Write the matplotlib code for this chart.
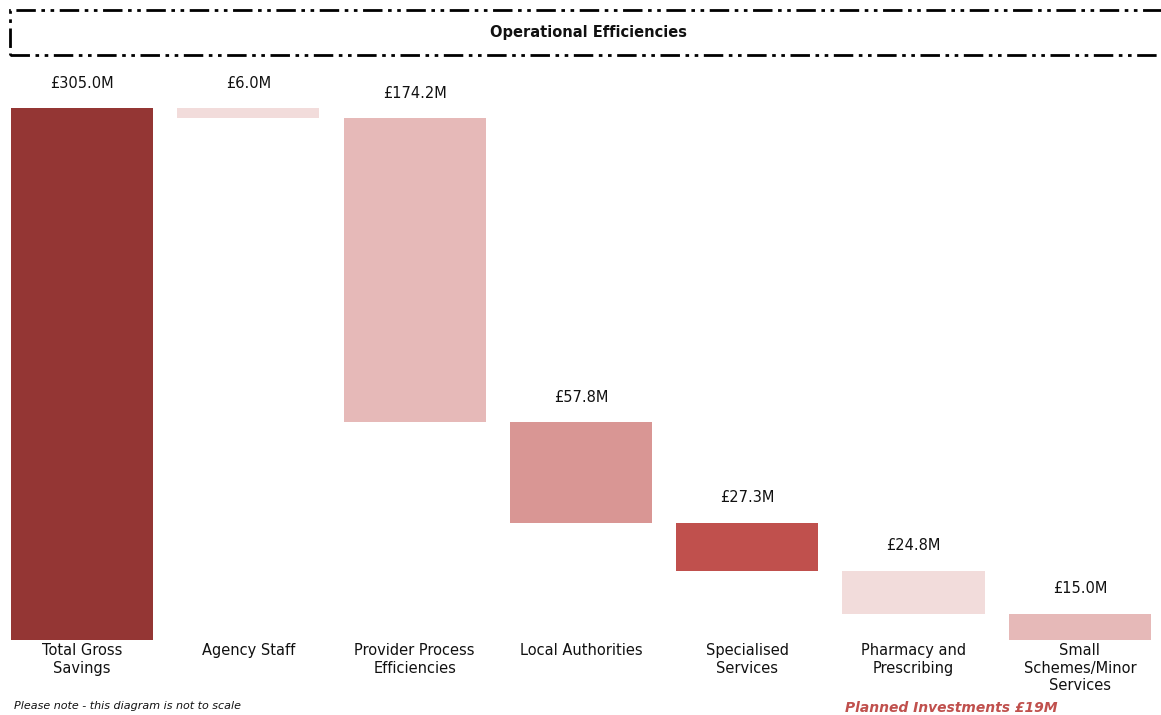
import numpy as np
import matplotlib.pyplot as plt
from matplotlib.patches import Rectangle

plt.rcParams["font.family"] = ["DejaVu Sans"]

# waterfall data (GBP millions)
categories = [
    "Total Gross\nSavings",
    "Agency Staff",
    "Provider Process\nEfficiencies",
    "Local Authorities",
    "Specialised\nServices",
    "Pharmacy and\nPrescribing",
    "Small\nSchemes/Minor\nServices",
]
total = 305.0
steps = [6.0, 174.2, 57.8, 27.3, 24.8, 15.0]
labels = ["£305.0M", "£6.0M", "£174.2M", "£57.8M", "£27.3M", "£24.8M", "£15.0M"]
colors = ["#943634", "#F2DCDB", "#E6B9B8", "#D99694", "#C0504D", "#F2DCDB", "#E6B9B8"]

# each step hangs below the previous one, last one sits on zero
step_tops = total + 0.1 - np.concatenate([[0], np.cumsum(steps)[:-1]])
step_bottoms = step_tops - np.array(steps)
heights = np.concatenate([[total], steps])
bottoms = np.concatenate([[0], step_bottoms])
tops = bottoms + heights

fig = plt.figure(figsize=(11.61, 7.15), dpi=100)
ax = fig.add_axes([0, 75 / 715, 1, 532 / 715])
x = np.arange(len(categories))
ax.bar(x, heights, bottom=bottoms, width=0.855, color=colors, clip_on=False)

for xi, top, lab in zip(x, tops, labels):
    ax.annotate(lab, (xi, top), xytext=(0, 18), textcoords="offset points",
                ha="center", va="center", fontsize=10.5, color="#111111")

for xi, cat in zip(x, categories):
    ax.annotate(cat, (xi, 0), xytext=(0, -2.5), textcoords="offset points",
                ha="center", va="top", fontsize=10.5, color="#111111",
                linespacing=1.2)

ax.set_xlim(-0.493, 6.488)
ax.set_ylim(0, 305.1)
ax.axis("off")

# header box
box = Rectangle((10 / 1161, 1 - 55 / 715), 1156 / 1161, 45 / 715,
                transform=fig.transFigure, fill=False, edgecolor="black",
                linewidth=2, linestyle=(0, (7, 2, 1.3, 2, 1.3, 2)), clip_on=False)
fig.patches.append(box)
fig.text(588 / 1161, 1 - 33 / 715, "Operational Efficiencies", ha="center",
         va="center", fontsize=10.5, fontweight="bold", color="#111111")

fig.text(14 / 1161, 1 - 706 / 715, "Please note - this diagram is not to scale",
         ha="left", va="center", fontsize=8, style="italic", color="#111111")
fig.text(951 / 1161, 1 - 708 / 715, "Planned Investments £19M", ha="center",
         va="center", fontsize=10, style="italic", fontweight="bold", color="#C0504D")

fig.savefig("out.png", dpi=100)
